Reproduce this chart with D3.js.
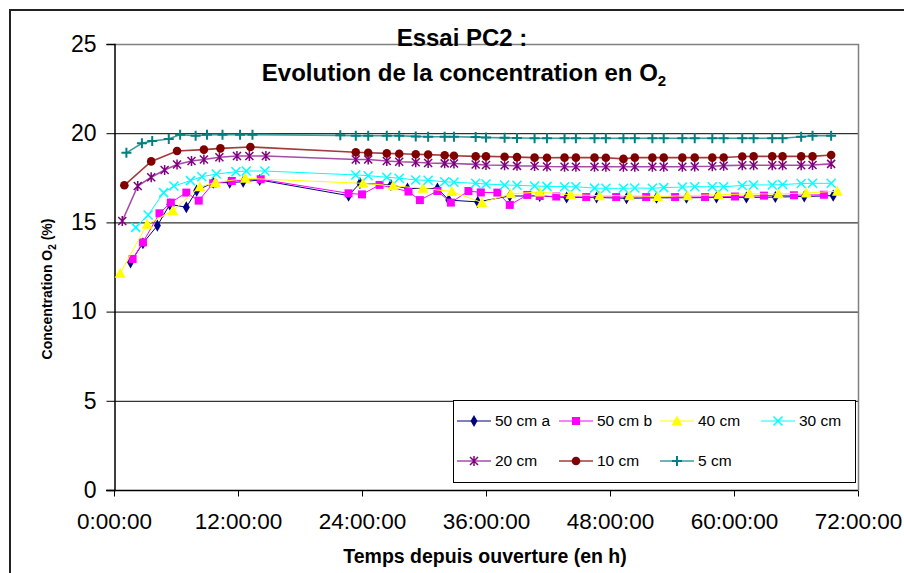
<!DOCTYPE html>
<html><head><meta charset="utf-8">
<script src="https://cdn.jsdelivr.net/npm/d3@7"></script>
<style>body{margin:0;background:#fff} svg{display:block;font-family:"Liberation Sans",Arial,sans-serif}</style>
</head><body><svg id="c" width="904" height="573"></svg>
<script>
// ---------- data ----------
const yTicks = [0, 5, 10, 15, 20, 25];
const xTicks = [0, 12, 24, 36, 48, 60, 72];
const xTickLabels = ["0:00:00", "12:00:00", "24:00:00", "36:00:00", "48:00:00", "60:00:00", "72:00:00"];
const seriesNames = ["50 cm a", "50 cm b", "40 cm", "30 cm", "20 cm", "10 cm", "5 cm"];

// shared late sampling times (hours) for 30/20/10/5 cm
const tLate = [23.4, 24.6, 26.4, 27.6, 29.2, 30.4, 32.0, 32.9, 35.0, 36.0, 37.8, 39.0, 40.7, 41.9, 43.6, 44.7, 46.5, 47.6, 49.3, 50.4, 52.1, 53.2, 55.0, 56.2, 57.9, 59.0, 60.8, 61.9, 63.7, 64.7, 66.5, 67.6, 69.4];

const t50a = [1.6, 2.8, 4.2, 5.4, 7.0, 8.0, 9.6, 11.2, 12.5, 14.1, 22.7, 23.8, 26.8, 28.4, 31.3, 32.4, 35.2, 38.3, 41.2, 43.8, 46.7, 49.6, 52.5, 55.4, 58.3, 61.2, 64.0, 66.8, 69.6];
const v50a = [12.76, 13.83, 14.82, 16.01, 15.85, 16.78, 17.23, 17.23, 17.28, 17.38, 16.5, 17.2, 17.1, 16.9, 16.9, 16.25, 16.15, 16.48, 16.48, 16.4, 16.4, 16.35, 16.38, 16.38, 16.4, 16.4, 16.42, 16.45, 16.5];

const t50b = [1.8, 2.8, 4.4, 5.5, 7.0, 8.2, 9.6, 11.4, 14.2, 22.7, 24.0, 25.7, 28.5, 29.6, 31.3, 32.6, 34.3, 35.5, 37.1, 38.3, 40.0, 41.2, 42.8, 45.7, 48.6, 51.5, 54.3, 57.2, 60.1, 62.9, 65.8, 68.7];
const v50b = [12.95, 13.88, 15.51, 16.11, 16.67, 16.22, 17.19, 17.32, 17.42, 16.63, 16.57, 17.1, 16.73, 16.25, 16.76, 16.11, 16.76, 16.68, 16.67, 15.98, 16.54, 16.48, 16.45, 16.42, 16.42, 16.42, 16.42, 16.42, 16.45, 16.5, 16.52, 16.55];

const t40 = [0.6, 3.2, 5.7, 8.3, 9.8, 12.7, 24.1, 27.0, 29.9, 32.7, 35.6, 38.4, 41.2, 44.2, 47.0, 49.9, 52.6, 55.5, 58.5, 61.5, 64.3, 67.0, 70.0];
const v40 = [12.15, 14.89, 15.66, 17.0, 17.23, 17.47, 17.19, 17.05, 16.91, 16.73, 16.11, 16.6, 16.7, 16.55, 16.5, 16.5, 16.45, 16.5, 16.55, 16.6, 16.6, 16.65, 16.75];

const t30Early = [2.1, 3.3, 4.8, 5.8, 7.4, 8.5, 9.9, 11.8, 12.8, 14.6];
const v30 = [14.72, 15.41, 16.67, 17.04, 17.34, 17.56, 17.71, 17.84, 17.88, 17.88,
  17.66, 17.62, 17.53, 17.48, 17.38, 17.36, 17.28, 17.25, 17.19, 17.15, 17.1, 17.08, 17.04, 17.02, 17.0, 17.0, 16.92, 16.91, 16.91, 16.93, 16.91, 16.95, 16.98, 17.0, 17.0, 17.0, 17.07, 17.1, 17.1, 17.12, 17.18, 17.19, 17.19];

const t20Early = [0.8, 2.3, 3.6, 4.9, 6.1, 7.5, 8.7, 10.2, 11.9, 13.1, 14.7];
const v20 = [15.08, 17.04, 17.53, 17.94, 18.25, 18.44, 18.53, 18.65, 18.72, 18.72, 18.72,
  18.53, 18.53, 18.44, 18.4, 18.37, 18.33, 18.31, 18.3, 18.25, 18.22, 18.2, 18.17, 18.16, 18.13, 18.12, 18.12, 18.12, 18.12, 18.12, 18.12, 18.12, 18.12, 18.12, 18.13, 18.15, 18.18, 18.2, 18.2, 18.2, 18.2, 18.2, 18.22, 18.28];

const t10Early = [1.0, 3.6, 6.1, 8.7, 10.3, 13.2];
const v10 = [17.08, 18.42, 19.0, 19.08, 19.15, 19.23,
  18.93, 18.9, 18.87, 18.85, 18.82, 18.8, 18.76, 18.74, 18.7, 18.7, 18.68, 18.66, 18.63, 18.62, 18.63, 18.63, 18.63, 18.62, 18.56, 18.63, 18.63, 18.63, 18.63, 18.63, 18.63, 18.64, 18.69, 18.7, 18.7, 18.7, 18.7, 18.7, 18.78];

const t5Early = [1.2, 2.7, 3.7, 5.3, 6.4, 7.9, 9.0, 10.5, 12.2, 13.4, 21.9];
const v5 = [18.9, 19.43, 19.56, 19.67, 19.92, 19.86, 19.92, 19.92, 19.92, 19.92, 19.88,
  19.86, 19.86, 19.86, 19.86, 19.82, 19.8, 19.8, 19.8, 19.78, 19.76, 19.74, 19.73, 19.72, 19.72, 19.72, 19.72, 19.72, 19.72, 19.72, 19.72, 19.72, 19.72, 19.72, 19.72, 19.72, 19.72, 19.72, 19.72, 19.72, 19.72, 19.8, 19.86, 19.86];

const seriesTimes = [t50a, t50b, t40, t30Early.concat(tLate), t20Early.concat(tLate), t10Early.concat(tLate), t5Early.concat(tLate)];
const seriesValues = [v50a, v50b, v40, v30, v20, v10, v5];

// ---------- styles ----------
const styles = [
  {line: "#000080", lw: 1, mk: "diamond", mc: "#000080"},
  {line: "#FF00FF", lw: 1, mk: "square", mc: "#FF00FF"},
  {line: "#FFFF00", lw: 1, mk: "triangle", mc: "#FFFF00"},
  {line: "#00FFFF", lw: 1, mk: "x", mc: "#00FFFF"},
  {line: "#A64CA6", lw: 1.6, mk: "star", mc: "#800080"},
  {line: "#A33A3A", lw: 1.6, mk: "circle", mc: "#800000"},
  {line: "#3D9C9C", lw: 1.6, mk: "plus", mc: "#008080"}
];

const svg = d3.select("#c");
const L = 114, R = 858, T = 44, B = 490;
const x = d3.scaleLinear().domain([0, 72]).range([L, R]);
const y = d3.scaleLinear().domain([0, 25]).range([B, T]);

// outer frame
svg.append("rect").attr("x", 10).attr("y", 10).attr("width", 1000).attr("height", 1000)
  .attr("fill", "none").attr("stroke", "#222").attr("stroke-width", 2);

// gridlines
svg.append("g").selectAll("line").data(yTicks.filter(d => d > 0 && d < 25)).join("line")
  .attr("x1", L).attr("x2", R).attr("y1", d => y(d) + 0.5).attr("y2", d => y(d) + 0.5)
  .attr("stroke", "#000").attr("stroke-width", 1);
// plot border top/right
svg.append("path").attr("d", `M${L},${T + 0.5}H${R + 0.5}V${B}`)
  .attr("fill", "none").attr("stroke", "#808080").attr("stroke-width", 1.5);

// axes
const yAxis = d3.axisLeft(y).tickValues(yTicks).tickSize(8).tickPadding(10).tickFormat(d3.format("d"));
const gy = svg.append("g").attr("transform", `translate(${L + 0.5},0)`).call(yAxis);
gy.select(".domain").attr("stroke", "#000").attr("stroke-width", 1.5);
gy.selectAll(".tick line").attr("stroke", "#000");
gy.selectAll(".tick text").attr("font-size", 23).attr("fill", "#000").attr("font-family", "Liberation Sans, Arial");

const xAxis = d3.axisBottom(x).tickValues(xTicks).tickSize(6).tickPadding(17).tickFormat((d, i) => xTickLabels[i]);
const gx = svg.append("g").attr("transform", `translate(0,${B + 0.5})`).call(xAxis);
gx.select(".domain").attr("stroke", "#000").attr("stroke-width", 1.5).attr("d", `M${L - 8},0H${R}`);
gx.selectAll(".tick line").attr("stroke", "#000");
gx.selectAll(".tick text").attr("font-size", 22.5).attr("fill", "#000").attr("font-family", "Liberation Sans, Arial");

// marker drawing
function marker(g, kind, color, cx, cy) {
  if (kind === "diamond") {
    g.append("path").attr("d", d3.symbol(d3.symbolDiamond, 42)()).attr("transform", `translate(${cx},${cy})`).attr("fill", color);
  } else if (kind === "square") {
    g.append("rect").attr("x", cx - 4).attr("y", cy - 4).attr("width", 8).attr("height", 8).attr("fill", color);
  } else if (kind === "triangle") {
    g.append("path").attr("d", `M${cx},${cy - 5.5}L${cx + 5.5},${cy + 4.5}L${cx - 5.5},${cy + 4.5}Z`).attr("fill", color);
  } else if (kind === "x") {
    g.append("path").attr("d", `M${cx - 4.5},${cy - 4.5}L${cx + 4.5},${cy + 4.5}M${cx - 4.5},${cy + 4.5}L${cx + 4.5},${cy - 4.5}`)
      .attr("stroke", color).attr("stroke-width", 1.5);
  } else if (kind === "star") {
    g.append("path").attr("d", `M${cx - 4},${cy - 4}L${cx + 4},${cy + 4}M${cx - 4},${cy + 4}L${cx + 4},${cy - 4}M${cx},${cy - 5}L${cx},${cy + 5}`)
      .attr("stroke", color).attr("stroke-width", 1.5);
  } else if (kind === "circle") {
    g.append("circle").attr("cx", cx).attr("cy", cy).attr("r", 4.3).attr("fill", color);
  } else if (kind === "plus") {
    g.append("path").attr("d", `M${cx - 5},${cy}L${cx + 5},${cy}M${cx},${cy - 5}L${cx},${cy + 5}`)
      .attr("stroke", color).attr("stroke-width", 2);
  }
}

// series
const lineGen = d3.line().x(d => x(d[0])).y(d => y(d[1]));
seriesNames.forEach((name, i) => {
  const pts = seriesTimes[i].map((t, j) => [t, seriesValues[i][j]]);
  const g = svg.append("g");
  g.append("path").attr("d", lineGen(pts)).attr("fill", "none")
    .attr("stroke", styles[i].line).attr("stroke-width", styles[i].lw);
  pts.forEach(p => marker(g, styles[i].mk, styles[i].mc, x(p[0]), y(p[1])));
});

// legend
const lg = svg.append("g");
lg.append("rect").attr("x", 453.5).attr("y", 400.5).attr("width", 402).attr("height", 82)
  .attr("fill", "#fff").attr("stroke", "#000").attr("stroke-width", 1);
const colX = [457, 559, 660, 761];
const rowY = [421, 461];
seriesNames.forEach((name, i) => {
  const cx = colX[i % 4], cy = rowY[Math.floor(i / 4)];
  lg.append("line").attr("x1", cx).attr("x2", cx + 34).attr("y1", cy).attr("y2", cy)
    .attr("stroke", styles[i].line).attr("stroke-width", styles[i].lw);
  marker(lg, styles[i].mk, styles[i].mc, cx + 17, cy);
  lg.append("text").attr("x", cx + 38).attr("y", cy).attr("dy", "0.35em")
    .attr("font-size", 15.5).attr("fill", "#000").text(name);
});

// titles
const title = svg.append("g").attr("font-weight", "bold").attr("fill", "#000").attr("text-anchor", "middle");
title.append("text").attr("x", 462).attr("y", 46).attr("font-size", 24).text("Essai PC2 :");
const t2 = title.append("text").attr("x", 464).attr("y", 81).attr("font-size", 24);
t2.append("tspan").text("Evolution de la concentration en O");
t2.append("tspan").attr("font-size", 15).attr("dy", 5).text("2");

svg.append("text").attr("x", 485).attr("y", 563).attr("text-anchor", "middle")
  .attr("font-weight", "bold").attr("font-size", 19.5).text("Temps depuis ouverture (en h)");

const yt = svg.append("text").attr("transform", "translate(52,289) rotate(-90)").attr("text-anchor", "middle")
  .attr("font-weight", "bold").attr("font-size", 14);
yt.append("tspan").text("Concentration O");
yt.append("tspan").attr("font-size", 10).attr("dy", 4).text("2");
yt.append("tspan").attr("dy", -4).text(" (%)");
</script></body></html>
